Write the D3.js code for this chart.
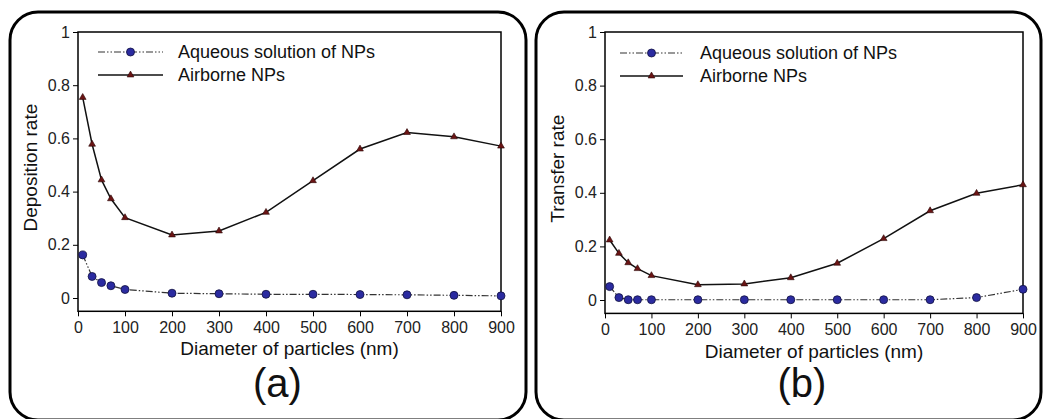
<!DOCTYPE html>
<html>
<head>
  <meta charset="utf-8">
  <title>Deposition and transfer rate of NPs</title>
  <script src="https://d3js.org/d3.v7.min.js"></script>
  <style>
    body { margin: 0; background: #fff; font-family: "Liberation Sans", Arial, sans-serif; }
    svg { display: block; }
    .tick line { stroke: #000; }
  </style>
</head>
<body>

<div id="chart"></div>

<script>
// particle diameters (nm)
const diameters = [10, 30, 50, 70, 100, 200, 300, 400, 500, 600, 700, 800, 900];

// panel (a) deposition rate
const depAqueous  = [0.162, 0.081, 0.058, 0.046, 0.032, 0.018, 0.016, 0.014, 0.014, 0.013, 0.012, 0.010, 0.008];
const depAirborne = [0.754, 0.578, 0.444, 0.373, 0.302, 0.237, 0.252, 0.322, 0.441, 0.560, 0.622, 0.606, 0.571];

// panel (b) transfer rate
const trAqueous  = [0.050, 0.009, 0.001, 0.001, 0.001, 0.001, 0.001, 0.001, 0.001, 0.001, 0.001, 0.009, 0.040];
const trAirborne = [0.224, 0.174, 0.139, 0.117, 0.091, 0.057, 0.060, 0.083, 0.137, 0.229, 0.333, 0.398, 0.430];

const xTicks = [0, 100, 200, 300, 400, 500, 600, 700, 800, 900];
const yTicks = [0, 0.2, 0.4, 0.6, 0.8, 1];
const seriesNames = ["Aqueous solution of NPs", "Airborne NPs"];

const width = 1049, height = 419;
const svg = d3.select("#chart").append("svg")
  .attr("width", width)
  .attr("height", height);

const panels = [
  { box: [10, 12, 516, 408], plot: { left: 78, right: 501, top: 32, zero: 298 },
    legend: { x1: 98, x2: 163, y: 52, tx: 178 },
    aqueous: depAqueous, airborne: depAirborne,
    yTitle: "Deposition rate", yTitleX: 30, xTitleY: 355, tag: "(a)" },
  { box: [536, 12, 505, 408], plot: { left: 605, right: 1023, top: 32, zero: 300 },
    legend: { x1: 620, x2: 683, y: 53, tx: 700 },
    aqueous: trAqueous, airborne: trAirborne,
    yTitle: "Transfer rate", yTitleX: 557, xTitleY: 358, tag: "(b)" }
];

const dashes = "7,2,1.5,2,1.5,2";

panels.forEach(p => {
  // rounded outer frame
  svg.append("rect")
    .attr("x", p.box[0]).attr("y", p.box[1])
    .attr("width", p.box[2]).attr("height", p.box[3])
    .attr("rx", 28).attr("ry", 28)
    .attr("fill", "none")
    .attr("stroke", "#000")
    .attr("stroke-width", 3);

  const x = d3.scaleLinear().domain([0, 900]).range([p.plot.left, p.plot.right]);
  const unit = p.plot.zero - p.plot.top;
  const y = d3.scaleLinear().domain([-0.05, 1]).range([p.plot.zero + 0.05 * unit, p.plot.top]);

  const g = svg.append("g");

  g.append("g")
    .attr("transform", `translate(0,${y(-0.05)})`)
    .call(d3.axisBottom(x).tickValues(xTicks).tickSize(5).tickPadding(4).tickFormat(d3.format("d")))
    .call(a => a.select(".domain").remove())
    .selectAll("text").attr("dy", "0.8em");

  g.append("g")
    .attr("transform", `translate(${x(0)},0)`)
    .call(d3.axisLeft(y).tickValues(yTicks).tickSize(5).tickPadding(3).tickFormat(d => d === 0 || d === 1 ? d : d.toFixed(1)))
    .call(a => a.select(".domain").remove());

  g.selectAll(".tick text")
    .attr("font-family", "Liberation Sans, Arial, sans-serif")
    .attr("font-size", 16)
    .attr("fill", "#222");

  // plot frame
  g.append("rect")
    .attr("x", x(0)).attr("y", y(1))
    .attr("width", x(900) - x(0)).attr("height", y(-0.05) - y(1))
    .attr("fill", "none")
    .attr("stroke", "#000")
    .attr("stroke-width", 1.5);

  const line = d3.line().x(d => x(d[0])).y(d => y(d[1]));
  const aq = diameters.map((d, i) => [d, p.aqueous[i]]);
  const air = diameters.map((d, i) => [d, p.airborne[i]]);

  g.append("path")
    .attr("d", line(air))
    .attr("fill", "none")
    .attr("stroke", "#111")
    .attr("stroke-width", 1.5);

  g.append("path")
    .attr("d", line(aq))
    .attr("fill", "none")
    .attr("stroke", "#333")
    .attr("stroke-width", 1.2)
    .attr("stroke-dasharray", dashes);

  const tri = d3.symbol().type(d3.symbolTriangle).size(20);
  g.selectAll(".tri").data(air).enter().append("path")
    .attr("transform", d => `translate(${x(d[0])},${y(d[1])})`)
    .attr("d", tri)
    .attr("fill", "#6a1414")
    .attr("stroke", "#2a0606")
    .attr("stroke-width", 0.6);

  g.selectAll(".dot").data(aq).enter().append("circle")
    .attr("cx", d => x(d[0]))
    .attr("cy", d => y(d[1]))
    .attr("r", 4)
    .attr("fill", "#2b2ba0")
    .attr("stroke", "#111140")
    .attr("stroke-width", 0.8);

  // legend
  const L = p.legend;
  const mid = (L.x1 + L.x2) / 2;
  g.append("line")
    .attr("x1", L.x1).attr("x2", L.x2).attr("y1", L.y).attr("y2", L.y)
    .attr("stroke", "#333").attr("stroke-width", 1.2)
    .attr("stroke-dasharray", dashes);
  g.append("circle")
    .attr("cx", mid).attr("cy", L.y).attr("r", 4)
    .attr("fill", "#2b2ba0").attr("stroke", "#111140").attr("stroke-width", 0.8);
  g.append("line")
    .attr("x1", L.x1).attr("x2", L.x2).attr("y1", L.y + 23).attr("y2", L.y + 23)
    .attr("stroke", "#111").attr("stroke-width", 1.5);
  g.append("path")
    .attr("transform", `translate(${mid},${L.y + 23})`)
    .attr("d", tri)
    .attr("fill", "#6a1414").attr("stroke", "#2a0606").attr("stroke-width", 0.6);

  seriesNames.forEach((name, i) => {
    g.append("text")
      .attr("x", L.tx).attr("y", L.y + i * 23)
      .attr("dy", "0.35em")
      .attr("font-size", 18)
      .attr("fill", "#111")
      .text(name);
  });

  // axis titles
  g.append("text")
    .attr("x", (x(0) + x(900)) / 2).attr("y", p.xTitleY)
    .attr("text-anchor", "middle")
    .attr("font-size", 19)
    .attr("fill", "#111")
    .text("Diameter of particles (nm)");

  g.append("text")
    .attr("transform", `translate(${p.yTitleX},${(y(1) + y(-0.05)) / 2 - 4}) rotate(-90)`)
    .attr("text-anchor", "middle")
    .attr("dy", "0.35em")
    .attr("font-size", 19)
    .attr("fill", "#111")
    .text(p.yTitle);

  g.append("text")
    .attr("x", (x(0) + x(900)) / 2 - 12).attr("y", 397)
    .attr("text-anchor", "middle")
    .attr("font-size", 40)
    .attr("fill", "#111")
    .text(p.tag);
});
</script>

</body>
</html>
